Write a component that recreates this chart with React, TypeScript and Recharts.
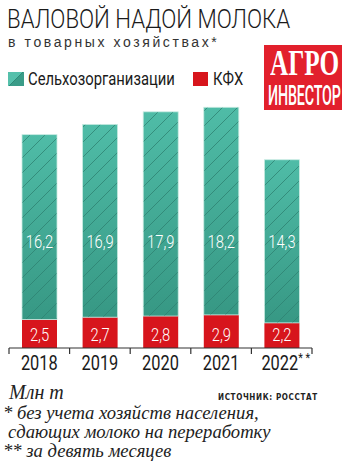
import React from "react";
import { Bar, BarChart, LabelList, XAxis, YAxis } from "recharts";

const years = ["2018", "2019", "2020", "2021", "2022"];
const yearMarks = ["", "", "", "", "* *"];
const farms = [16.2, 16.9, 17.9, 18.2, 14.3];
const kfh = [2.5, 2.7, 2.8, 2.9, 2.2];

const data = years.map((year, i) => ({ year, farms: farms[i], kfh: kfh[i] }));

const W = 352;
const H = 467;
const M = { top: 97, right: 40, bottom: 89, left: 9 };
const AXIS_H = 30;
const PLOT_BOTTOM = H - M.bottom - AXIS_H;
const BAND = (W - M.left - M.right) / years.length;

const COND = "Roboto, 'Liberation Sans', sans-serif";
const SERIF = "'Liberation Serif', 'DejaVu Serif', serif";

function Txt({ x, y, size, sx = 0.82, weight = 400, color = "#1a1a1a", font = COND, italic = false, spacing = 0, children }: any) {
  return (
    <div style={{ position: "absolute", left: x, top: y, fontSize: size, fontFamily: font, fontWeight: weight, fontStyle: italic ? "italic" : "normal", color, letterSpacing: spacing, whiteSpace: "nowrap", lineHeight: 1, transform: `scaleX(${sx})`, transformOrigin: "left top" }}>
      {children}
    </div>
  );
}

function GreenBar(props: any) {
  const { x, y, width, height } = props;
  if (!height) return null;
  return (
    <g>
      <rect x={x} y={y} width={width} height={height} fill="url(#greenGrad)" stroke="#c8ebe2" strokeWidth={0.8} />
      <rect x={x + 0.5} y={y + 0.5} width={width - 1} height={height - 1} fill="url(#hatch)" />
    </g>
  );
}

function ValueLabel(offset: number) {
  return (props: any) => {
    const { x, width, value } = props;
    const cx = x + width / 2;
    return (
      <text transform={`translate(${cx},${PLOT_BOTTOM - offset}) scale(0.82,1)`} textAnchor="middle" dominantBaseline="central" fill="#fff" fontFamily={COND} fontSize={18} fontWeight={300}>
        {String(value).replace(".", ",")}
      </text>
    );
  };
}

function YearTick(props: any) {
  const { x, payload, index } = props;
  const left = x - BAND / 2;
  const last = index === years.length - 1;
  return (
    <g>
      <line x1={left} x2={left} y1={PLOT_BOTTOM} y2={PLOT_BOTTOM + 6} stroke="#333" strokeWidth={1.2} />
      {last && <line x1={x + BAND / 2} x2={x + BAND / 2} y1={PLOT_BOTTOM} y2={PLOT_BOTTOM + 6} stroke="#333" strokeWidth={1.2} />}
      <text transform={`translate(${x + (last ? 4 : 0)},${PLOT_BOTTOM + 15}) scale(0.82,1)`} textAnchor="middle" dominantBaseline="central" fill="#1a1a1a" fontFamily={COND} fontSize={20}>
        {payload.value}
        {yearMarks[index] && <tspan fontSize={13} dy={-5}>{yearMarks[index]}</tspan>}
      </text>
    </g>
  );
}

export default function App() {
  return (
    <div style={{ position: "absolute", left: 0, top: 0, width: W, height: H, background: "#fff", overflow: "hidden" }}>
      <Txt x={7} y={6} size={26} weight={300} sx={0.855}>ВАЛОВОЙ НАДОЙ МОЛОКА</Txt>
      <Txt x={8} y={35} size={14} sx={1} spacing={2.6} color="#333" font="'Liberation Sans', Arial, sans-serif">в товарных хозяйствах*</Txt>

      <div style={{ position: "absolute", left: 8, top: 72, width: 16, height: 14, background: "linear-gradient(135deg, #55c0ab 0 48%, #2e8a78 50%, #3a9c88 52% 100%)" }} />
      <Txt x={28} y={69} size={19} sx={0.78}>Сельхозорганизации</Txt>
      <div style={{ position: "absolute", left: 193, top: 72, width: 15, height: 14, background: "#d7151c" }} />
      <Txt x={213} y={69} size={19} sx={0.78}>КФХ</Txt>

      <div style={{ position: "absolute", left: 264, top: 45, width: 78, height: 65, background: "#e2202c" }} />
      <Txt x={270} y={46} size={35} weight={700} sx={0.72} color="#fff" font={SERIF}>АГРО</Txt>
      <Txt x={268} y={82} size={28} weight={500} sx={0.51} color="#fff" spacing={-0.3}>ИНВЕСТОР</Txt>

      <div style={{ position: "absolute", left: 0, top: 0 }}>
        <BarChart width={W} height={H} data={data} margin={M} barSize={35}>
          <defs>
            <linearGradient id="greenGrad" x1="0" y1="0" x2="0" y2="1">
              <stop offset="0%" stopColor="#4fbca7" />
              <stop offset="100%" stopColor="#379884" />
            </linearGradient>
            <pattern id="hatch" patternUnits="userSpaceOnUse" width={15} height={15}>
              <path d="M0,15 L15,0 M-3,3 L3,-3 M12,18 L18,12" stroke="#2f8372" strokeWidth={0.8} />
            </pattern>
          </defs>
          <XAxis dataKey="year" height={AXIS_H} axisLine={{ stroke: "#333", strokeWidth: 1.2 }} tickLine={false} tick={<YearTick />} interval={0} />
          <YAxis hide domain={[0, 22]} />
          <Bar dataKey="kfh" stackId="a" fill="#d7151c" isAnimationActive={false}>
            <LabelList dataKey="kfh" content={ValueLabel(13)} />
          </Bar>
          <Bar dataKey="farms" stackId="a" shape={<GreenBar />} isAnimationActive={false}>
            <LabelList dataKey="farms" content={ValueLabel(106)} />
          </Bar>
        </BarChart>
      </div>

      <Txt x={9} y={382} size={20} sx={1} italic color="#222" font={SERIF}>Млн т</Txt>
      <Txt x={218} y={393} size={9} sx={0.8} weight={700} spacing={0.8} color="#222" font="'DejaVu Sans', sans-serif">ИСТОЧНИК: РОССТАТ</Txt>
      <Txt x={3} y={403} size={19} sx={0.98} italic color="#222" font={SERIF}>* без учета хозяйств населения,</Txt>
      <Txt x={8} y={422} size={19} sx={0.98} italic color="#222" font={SERIF}>сдающих молоко на переработку</Txt>
      <Txt x={3} y={441} size={19} sx={0.98} italic color="#222" font={SERIF}>** за девять месяцев</Txt>
    </div>
  );
}
